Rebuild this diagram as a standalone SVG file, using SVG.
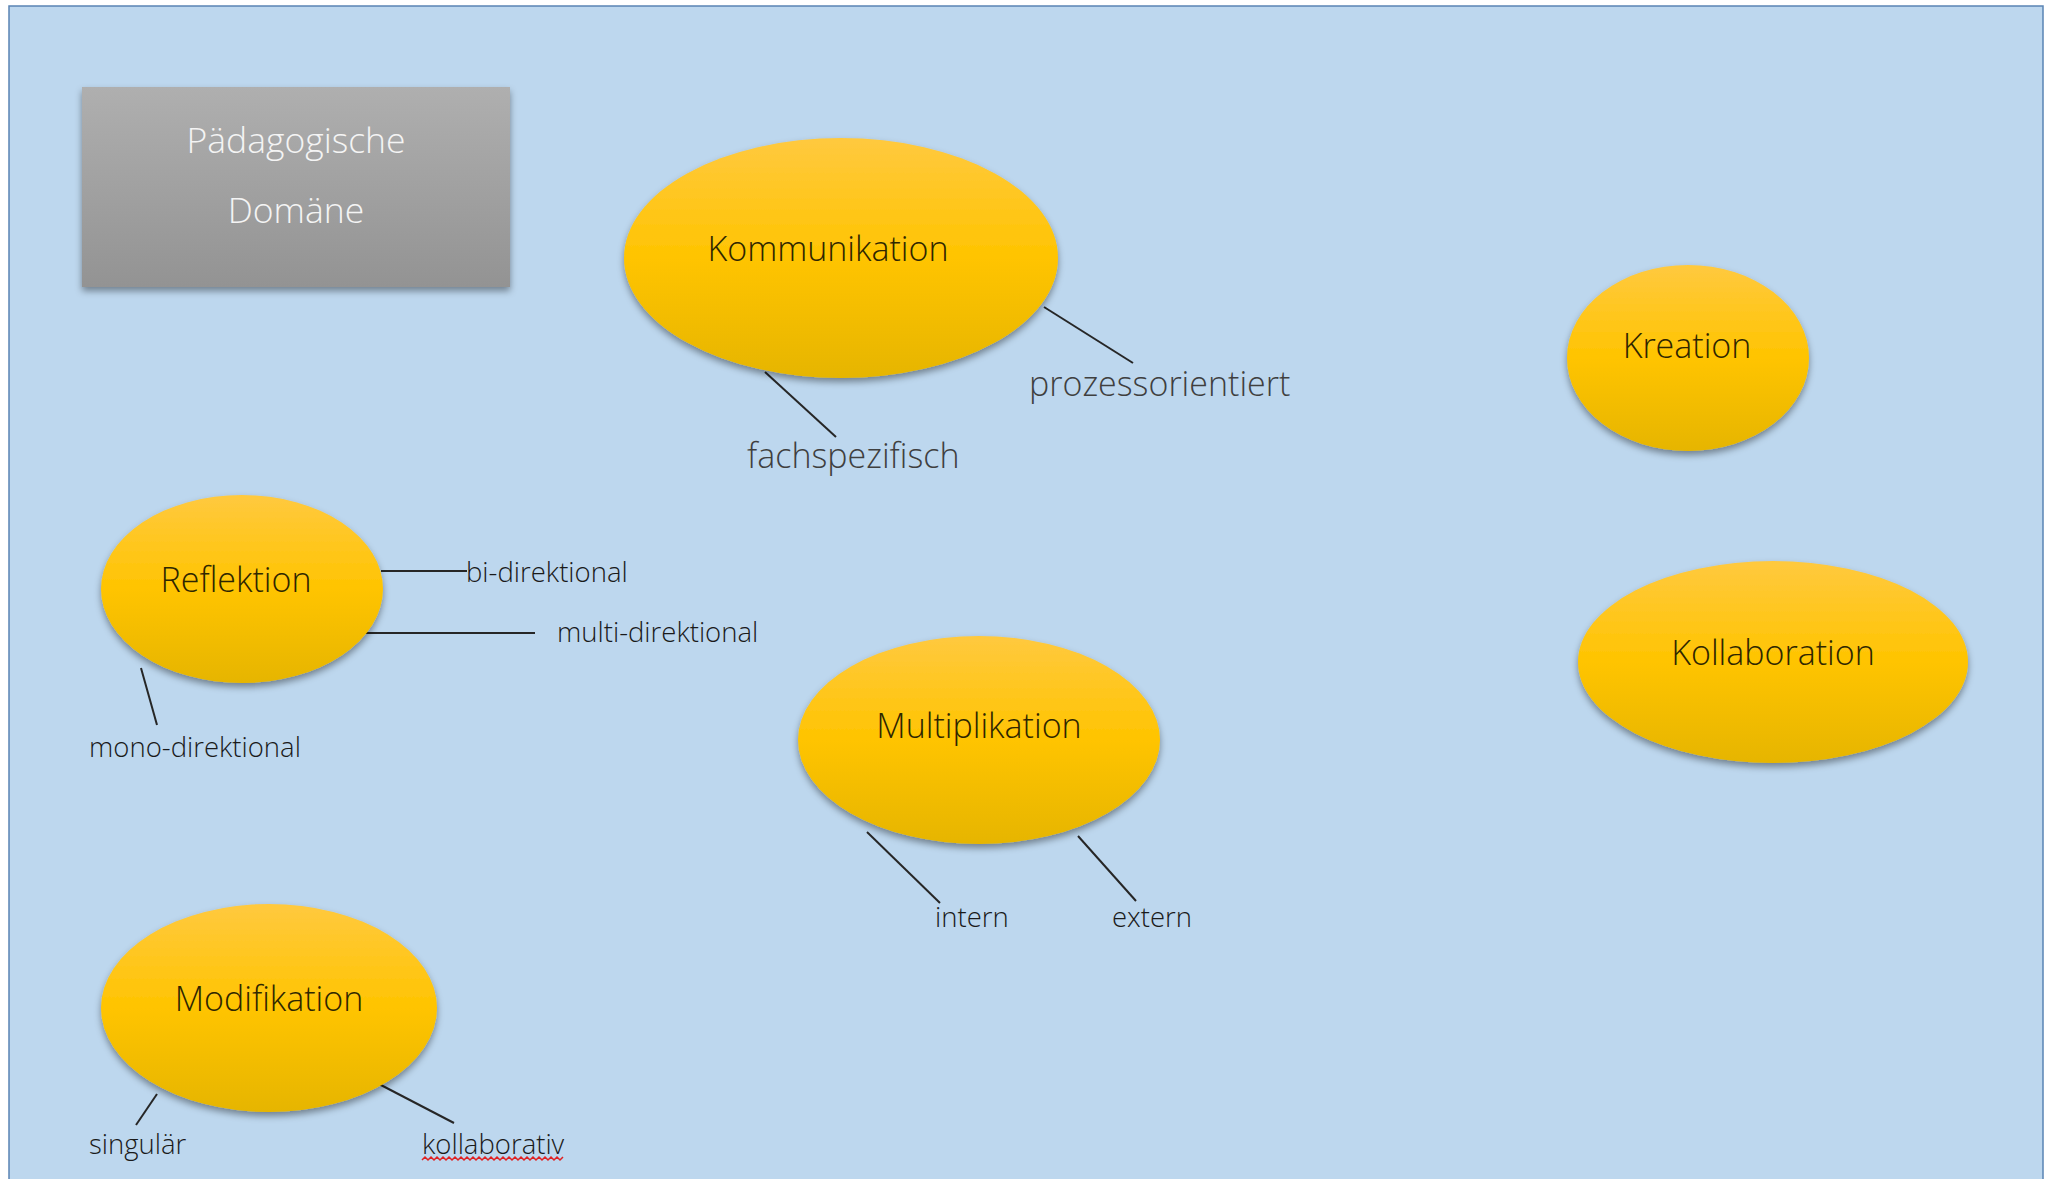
<svg xmlns="http://www.w3.org/2000/svg" width="2047" height="1179" viewBox="0 0 2047 1179">
<defs>
<linearGradient id="gold" x1="0" y1="0" x2="0" y2="1">
<stop offset="0" stop-color="#FFC93F"/>
<stop offset="0.5" stop-color="#FFC400"/>
<stop offset="1" stop-color="#E6B500"/>
</linearGradient>
<linearGradient id="grey" x1="0" y1="0" x2="0" y2="1">
<stop offset="0" stop-color="#AFAFAF"/>
<stop offset="1" stop-color="#939393"/>
</linearGradient>
<filter id="sh" x="-20%" y="-20%" width="140%" height="150%">
<feDropShadow dx="0" dy="4" stdDeviation="3.5" flood-color="#000" flood-opacity="0.4"/>
</filter>
<style>
.node{fill:url(#gold);filter:url(#sh)}
.nt{font-family:"Open Sans","Noto Sans","Liberation Sans",sans-serif;font-weight:300;font-size:34px;fill:#2E2600;text-anchor:middle}
.lbl{font-family:"Open Sans","Noto Sans","Liberation Sans",sans-serif;font-weight:300;font-size:27.5px;fill:#1A1A1A}
.big{font-size:34px;fill:#3F3F3F}
.conn line{stroke:#262626;stroke-width:2}
</style>
</defs>
<rect x="9" y="6" width="2034" height="1180" fill="#BDD7EE" stroke="#5A84B4" stroke-width="1.5"/>
<g id="paedagogische-domaene">
<rect x="82" y="87" width="428" height="200" fill="url(#grey)" filter="url(#sh)"/>
<text x="296" y="153" font-family="Open Sans, Noto Sans, Liberation Sans, sans-serif" font-weight="300" font-size="35.5" fill="#F4F4F4" text-anchor="middle">Pädagogische</text>
<text x="296" y="223" font-family="Open Sans, Noto Sans, Liberation Sans, sans-serif" font-weight="300" font-size="35.5" fill="#F4F4F4" text-anchor="middle">Domäne</text>
</g>
<g class="conn" id="connectors">
<line x1="1044" y1="307" x2="1133" y2="363"/>
<line x1="765" y1="372" x2="836" y2="437"/>
<line x1="381" y1="571" x2="467" y2="571"/>
<line x1="359" y1="633" x2="535" y2="633"/>
<line x1="141" y1="668" x2="157" y2="725"/>
<line x1="867" y1="832" x2="940" y2="903"/>
<line x1="1078" y1="836" x2="1136" y2="901"/>
<line x1="157" y1="1094" x2="136" y2="1125"/>
<line x1="379" y1="1084" x2="454" y2="1123"/>
</g>
<g id="kommunikation">
<ellipse class="node" cx="841" cy="258" rx="217" ry="120"/>
<text class="nt" x="828" y="261">Kommunikation</text>
</g>
<g id="kreation">
<ellipse class="node" cx="1688" cy="358" rx="121" ry="93"/>
<text class="nt" x="1687" y="358">Kreation</text>
</g>
<g id="kollaboration">
<ellipse class="node" cx="1773" cy="662" rx="195" ry="101"/>
<text class="nt" x="1773" y="665">Kollaboration</text>
</g>
<g id="reflektion">
<ellipse class="node" cx="242" cy="589" rx="141" ry="94"/>
<text class="nt" x="236" y="592">Reflektion</text>
</g>
<g id="multiplikation">
<ellipse class="node" cx="979" cy="740" rx="181" ry="104"/>
<text class="nt" x="979" y="738">Multiplikation</text>
</g>
<g id="modifikation">
<ellipse class="node" cx="269" cy="1008" rx="168" ry="104"/>
<text class="nt" x="269" y="1011">Modifikation</text>
</g>
<g id="labels">
<text class="lbl big" x="1029" y="396">prozessorientiert</text>
<text class="lbl big" x="747" y="468">fachspezifisch</text>
<text class="lbl" x="466" y="582">bi-direktional</text>
<text class="lbl" x="557" y="642">multi-direktional</text>
<text class="lbl" x="89" y="757">mono-direktional</text>
<text class="lbl" x="935" y="927">intern</text>
<text class="lbl" x="1112" y="927">extern</text>
<text class="lbl" x="89" y="1154">singulär</text>
<text class="lbl" x="422" y="1154">kollaborativ</text>
<polyline points="422,1160 425,1157 428,1160 431,1157 434,1160 437,1157 440,1160 443,1157 446,1160 449,1157 452,1160 455,1157 458,1160 461,1157 464,1160 467,1157 470,1160 473,1157 476,1160 479,1157 482,1160 485,1157 488,1160 491,1157 494,1160 497,1157 500,1160 503,1157 506,1160 509,1157 512,1160 515,1157 518,1160 521,1157 524,1160 527,1157 530,1160 533,1157 536,1160 539,1157 542,1160 545,1157 548,1160 551,1157 554,1160 557,1157 560,1160 563,1157" fill="none" stroke="#E02020" stroke-width="1.5"/>
</g>
</svg>
